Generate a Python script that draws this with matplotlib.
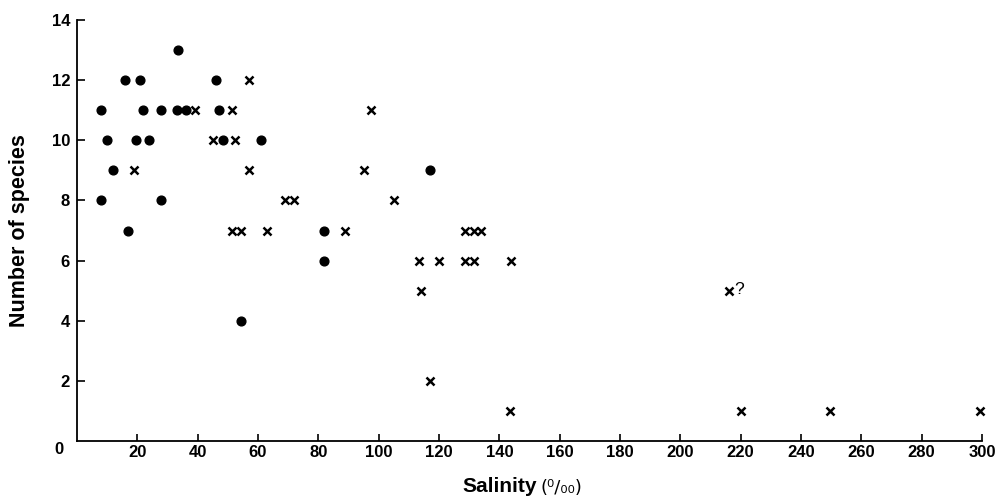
import matplotlib

matplotlib.use("Agg")

from matplotlib import pyplot as plt

plt.rcParams["font.family"] = ["Liberation Sans", "DejaVu Sans"]

# values (salinity in parts per thousand)
dot_salinity = [8, 10, 12, 8, 16, 17, 21, 19.5, 22, 24, 28, 28, 33.5, 33, 36,
                46, 47, 48.5, 61, 82, 82, 117, 54.5]
dot_species = [11, 10, 9, 8, 12, 7, 12, 10, 11, 10, 11, 8, 13, 11, 11,
               12, 11, 10, 10, 7, 6, 9, 4]

cross_salinity = [39, 51.5, 45, 52.5, 57, 19, 57, 51.5, 54.5, 63, 69, 72, 89,
                  97.5, 95, 105, 113.5, 120, 128.5, 131.5, 144, 128.5, 131.5,
                  134, 114, 117, 143.5, 220, 249.5, 299.5]
cross_species = [11, 11, 10, 10, 12, 9, 9, 7, 7, 7, 8, 8, 7,
                 11, 9, 8, 6, 6, 6, 6, 6, 7, 7,
                 7, 5, 2, 1, 1, 1, 1]

# the doubtful record, marked "x?"
doubt_salinity = [216]
doubt_species = [5]

x_ticks = list(range(20, 301, 20))
y_ticks = list(range(2, 15, 2))

fig = plt.figure(figsize=(10.03, 5.0), dpi=100)
ax = fig.add_axes([0.0768, 0.118, 0.9022, 0.842])

ax.plot(dot_salinity, dot_species, "o", color="black", markersize=6.3,
        linestyle="none", clip_on=False)
ax.plot(cross_salinity, cross_species, "x", color="black", markersize=5.3,
        markeredgewidth=1.8, linestyle="none", clip_on=False)
ax.plot(doubt_salinity, doubt_species, "x", color="black", markersize=5.3,
        markeredgewidth=1.8, linestyle="none", clip_on=False)
for sx, sy in zip(doubt_salinity, doubt_species):
    ax.annotate("?", xy=(sx, sy), xytext=(4, 1), textcoords="offset points",
                ha="left", va="center", fontsize=12.5, color="black")

ax.set_xlim(0, 300)
ax.set_ylim(0, 14)
ax.set_xticks(x_ticks)
ax.set_yticks(y_ticks)
ax.set_xticklabels([str(v) for v in x_ticks])
ax.set_yticklabels([str(v) for v in y_ticks])

for side in ("top", "right"):
    ax.spines[side].set_visible(False)
for side in ("left", "bottom"):
    ax.spines[side].set_linewidth(1.3)
ax.tick_params(axis="x", direction="in", length=5, width=1.2, pad=3,
               labelsize=12)
ax.tick_params(axis="y", direction="in", length=6, width=1.2, pad=5,
               labelsize=12)
for lab in ax.get_xticklabels() + ax.get_yticklabels():
    lab.set_fontweight("bold")

# shared origin label
fig.text(59 / 1003, 1 - 449 / 500, "0", ha="center", va="center",
         fontsize=12, fontweight="bold")

fig.text(20 / 1003, 1 - 231 / 500, "Number of species", rotation=90,
         ha="center", va="center", fontsize=15.5, fontweight="bold")
fig.text(537 / 1003, 1 - 487 / 500, "Salinity", ha="right", va="center",
         fontsize=15, fontweight="bold")
fig.text(541 / 1003, 1 - 488 / 500, "(⁰/₀₀)", ha="left", va="center",
         fontsize=13, family=["DejaVu Sans"])

fig.savefig("out.png", dpi=100, facecolor="white")
